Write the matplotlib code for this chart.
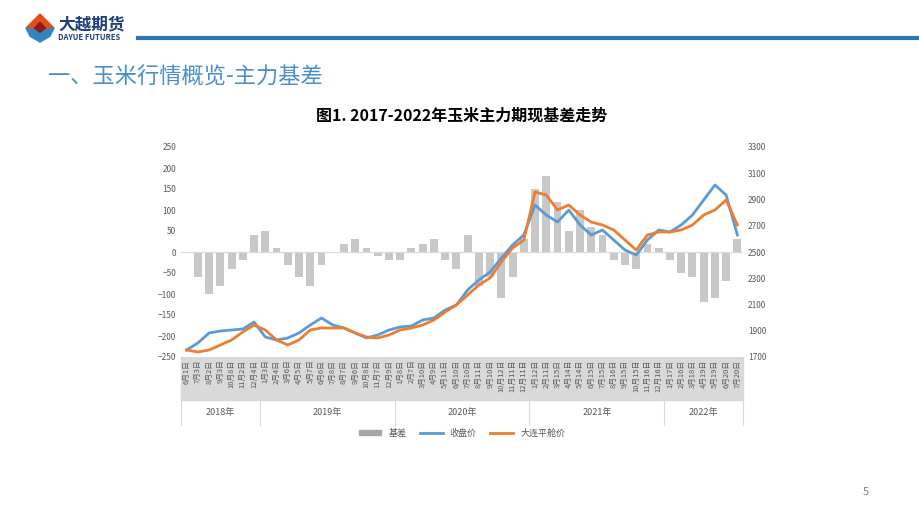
import matplotlib.pyplot as plt
import matplotlib.patches as mpatches
import numpy as np

plt.rcParams['font.family'] = ['Noto Sans CJK SC', 'DejaVu Sans']

years = ['2018年', '2019年', '2020年', '2021年', '2022年']
months_per_year = [7, 12, 12, 12, 7]
date_labels = ['6月1日', '7月3日', '8月2日', '9月3日', '10月8日', '11月2日', '12月4日',
               '1月3日', '2月4日', '3月6日', '4月5日', '5月7日', '6月6日', '7月8日', '8月7日', '9月6日', '10月8日', '11月7日', '12月9日',
               '1月8日', '2月7日', '3月10日', '4月9日', '5月11日', '6月10日', '7月10日', '8月11日', '9月10日', '10月12日', '11月11日', '12月11日',
               '1月12日', '2月11日', '3月15日', '4月14日', '5月14日', '6月15日', '7月15日', '8月16日', '9月15日', '10月15日', '11月16日', '12月16日',
               '1月17日', '2月16日', '3月18日', '4月19日', '5月19日', '6月20日', '7月20日']

close_px = [350, 343, 333, 331, 330, 329, 322, 337, 340, 338, 333, 325, 318, 325, 328, 333, 338, 335, 330,
            327, 326, 320, 318, 310, 305, 290, 280, 272, 258, 245, 235,
            205, 215, 222, 210, 225, 235, 230, 240, 250, 255, 240, 230,
            232, 225, 215, 200, 185, 195, 235]
spot_px = [350, 352, 350, 345, 340, 332, 325, 330, 340, 345, 340, 330, 328, 328, 328, 333, 337, 338, 335,
           330, 328, 325, 320, 312, 305, 295, 285, 278, 262, 248, 240,
           192, 195, 210, 205, 215, 222, 225, 230, 240, 250, 235, 232,
           232, 230, 225, 215, 210, 200, 225]
basis = [0, -60, -100, -80, -40, -20, 40, 50, 10, -30, -60, -80, -30, 0, 20, 30, 10, -10, -20,
         -20, 10, 20, 30, -20, -40, 40, -80, -60, -110, -60, 30,
         150, 180, 120, 50, 100, 60, 40, -20, -30, -40, 20, 10,
         -20, -50, -60, -120, -110, -70, 30]

# pixel readings -> price values (3300 at y=147, 1700 at y=357)
def px2price(v):
    return 1700 + (357 - np.array(v)) / 210 * 1600

close = px2price(close_px)
spot = px2price(spot_px)

fig = plt.figure(figsize=(9.2, 5.18), dpi=100)
W, H = 920, 518

# header
fig.add_artist(plt.Line2D([138 / W, 1], [1 - 38 / H] * 2, color='#2E75B6', lw=3))
lx, ly = 40 / W, 1 - 28 / H
dx, dy = 14 / W, 14 / H
fig.add_artist(mpatches.Polygon([[lx, ly + dy], [lx + dx, ly], [lx, ly - dy], [lx - dx, ly]], color='#E74C1C'))
fig.add_artist(mpatches.Polygon([[lx - dx, ly], [lx, ly - dy * 0.2], [lx + dx, ly], [lx + dx * 0.7, ly - dy * 0.6], [lx, ly - dy], [lx - dx * 0.7, ly - dy * 0.6]], color='#2E86C1'))
fig.add_artist(mpatches.Polygon([[lx - dx * 0.4, ly], [lx, ly + dy * 0.4], [lx + dx * 0.4, ly], [lx, ly - dy * 0.3]], color='#8B1A1A'))
fig.text(58 / W, 1 - 24 / H, '大越期货', fontsize=12, fontweight='bold', color='#1F3F7A', va='center')
fig.text(58 / W, 1 - 38 / H, 'DAYUE FUTURES', fontsize=5.5, fontweight='bold', color='#1F3F7A', va='center')
fig.text(48 / W, 1 - 77 / H, '一、玉米行情概览-主力基差', fontsize=16, fontweight='light', color='#4A8FCB', va='center')
fig.text(462 / W, 1 - 116 / H, '图1. 2017-2022年玉米主力期现基差走势', fontsize=11.5, fontweight='bold', ha='center', va='center')
fig.text(863 / W, 1 - 492 / H, '5', fontsize=8, color='#808080', va='center')

ax = fig.add_axes([181 / W, 1 - 357 / H, (743 - 181) / W, 210 / H])
x = np.arange(len(date_labels))
ax.bar(x, basis, width=0.7, color='#C8C8C8', zorder=1)
ax.set_ylim(-250, 250)
ax.set_yticks(range(-250, 251, 50))
ax.set_xlim(-0.5, len(x) - 0.5)
ax.axhline(0, color='#D9D9D9', lw=0.8)
ax2 = ax.twinx()
ax2.plot(x, close, color='#5B9BD5', lw=2)
ax2.plot(x, spot, color='#ED7D31', lw=2)
ax2.set_ylim(1700, 3300)
ax2.set_yticks(range(1700, 3301, 200))
for a in (ax, ax2):
    for s in a.spines.values():
        s.set_visible(False)
    a.tick_params(length=0, labelsize=6, colors='#595959')
ax.set_xticks(x)
ax.set_xticklabels(date_labels, rotation=90, fontsize=5.5, color='#595959')
ax.tick_params(axis='x', pad=2)

# gray band behind date labels and year row
fig.add_artist(mpatches.Rectangle((181 / W, 1 - 400 / H), (743 - 181) / W, 43 / H, color='#D9D9D9', zorder=0))
bounds = np.cumsum([0] + months_per_year)
for i, yr in enumerate(years):
    xa = 181 + bounds[i] * (743 - 181) / len(x)
    xb = 181 + bounds[i + 1] * (743 - 181) / len(x)
    fig.add_artist(plt.Line2D([xa / W, xa / W], [1 - 425 / H, 1 - 400 / H], color='#D9D9D9', lw=0.8))
    fig.text((xa + xb) / 2 / W, 1 - 412 / H, yr, fontsize=6.5, ha='center', va='center', color='#595959')
fig.add_artist(plt.Line2D([743 / W] * 2, [1 - 425 / H, 1 - 400 / H], color='#D9D9D9', lw=0.8))

handles = [mpatches.Patch(color='#A6A6A6', label='基差'),
           plt.Line2D([], [], color='#5B9BD5', lw=2, label='收盘价'),
           plt.Line2D([], [], color='#ED7D31', lw=2, label='大连平舱价')]
fig.legend(handles=handles, loc='center', bbox_to_anchor=(462 / W, 1 - 433 / H), ncol=3, frameon=False,
           fontsize=6.5, handlelength=2.5, handleheight=0.5, columnspacing=1.5, labelcolor='#595959')

fig.savefig('out.png', dpi=100)
